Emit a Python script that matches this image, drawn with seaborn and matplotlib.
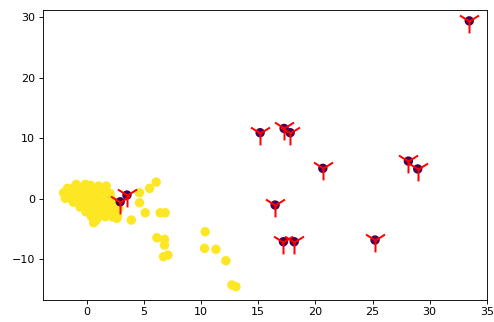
import numpy as np
import pandas as pd
import matplotlib
matplotlib.use("Agg")
import matplotlib.pyplot as plt
import seaborn as sns

# inlier points (yellow) - dense blob near the origin plus a trailing arm
inlier_x = [
    -0.94, -0.15, 0.3, 1.01, 1.69,
    -1.7, -1.2, -0.6, 0.0, 0.5, 1.16, 1.6,
    -2.05, -1.5, -0.9, -0.3, 0.3, 0.9, 1.5, 2.0,
    -1.9, -1.3, -0.7, -0.1, 0.5, 1.1, 1.7, 2.1,
    -1.2, -0.6, 0.0, 0.6, 1.2, 1.8, 2.3,
    -0.6, 0.0, 0.6, 1.2, 1.8, 2.4,
    -0.1, 0.5, 1.1, 1.7, 2.3, 2.8,
    0.4, 1.0, 1.6, 2.2, 2.68, 2.62,
    0.58, 0.8,
    3.88, 4.6, 4.6, 5.48, 6.06, 5.1, 6.41, 6.85,
    6.12, 6.79, 6.79, 6.7, 7.09,
    10.35, 10.29, 11.29, 12.16, 12.69, 13.04,
]
inlier_y = [
    2.35, 2.35, 2.2, 2.07, 2.07,
    1.7, 1.7, 1.7, 1.7, 1.7, 1.69, 1.6,
    0.96, 1.0, 1.0, 1.0, 1.0, 1.0, 1.0, 0.9,
    0.03, 0.2, 0.2, 0.2, 0.2, 0.2, 0.2, 0.2,
    -0.6, -0.6, -0.6, -0.6, -0.6, -0.6, -0.6,
    -1.4, -1.4, -1.4, -1.4, -1.4, -1.4,
    -2.2, -2.2, -2.2, -2.2, -2.2, -1.6,
    -3.0, -3.0, -3.0, -3.0, -3.0, -3.27,
    -4.0, -3.6,
    -3.55, 0.96, -0.69, 1.69, 2.73, -2.35, -2.35, -2.35,
    -6.48, -6.74, -7.69, -9.62, -9.34,
    -5.49, -8.23, -8.4, -10.28, -14.3, -14.58,
]

# outlier points (purple dots marked with red tri markers)
outlier_x = [2.91, 3.5, 15.16, 17.26, 17.79, 20.65, 28.14, 28.96,
             16.47, 17.2, 18.14, 25.22, 33.47]
outlier_y = [-0.53, 0.58, 10.9, 11.6, 10.9, 5.0, 6.2, 4.9,
             -1.07, -7.14, -7.14, -6.86, 29.4]

df = pd.DataFrame({
    "x": inlier_x + outlier_x,
    "y": inlier_y + outlier_y,
    "label": [1] * len(inlier_x) + [0] * len(outlier_x),
})
out_df = pd.DataFrame({"x": outlier_x, "y": outlier_y})

fig = plt.figure(figsize=(494 / 80, 322 / 80), dpi=80)
ax = fig.add_axes([43 / 494, 22.5 / 322, 444.3 / 494, 289.5 / 322])

sns.scatterplot(data=df, x="x", y="y", hue="label",
                palette={0: "#440154", 1: "#fde725"},
                s=72, linewidth=0, legend=False, ax=ax)
sns.scatterplot(data=out_df, x="x", y="y", marker="1", color="red",
                s=460, linewidth=1.8, legend=False, ax=ax)

ax.set_xlim(-3.85, 35.05)
ax.set_ylim(-16.7, 31.2)
ax.set_xticks([0, 5, 10, 15, 20, 25, 30, 35])
ax.set_yticks([-10, 0, 10, 20, 30])
ax.set_xlabel("")
ax.set_ylabel("")

fig.savefig("out.png", dpi=80)
